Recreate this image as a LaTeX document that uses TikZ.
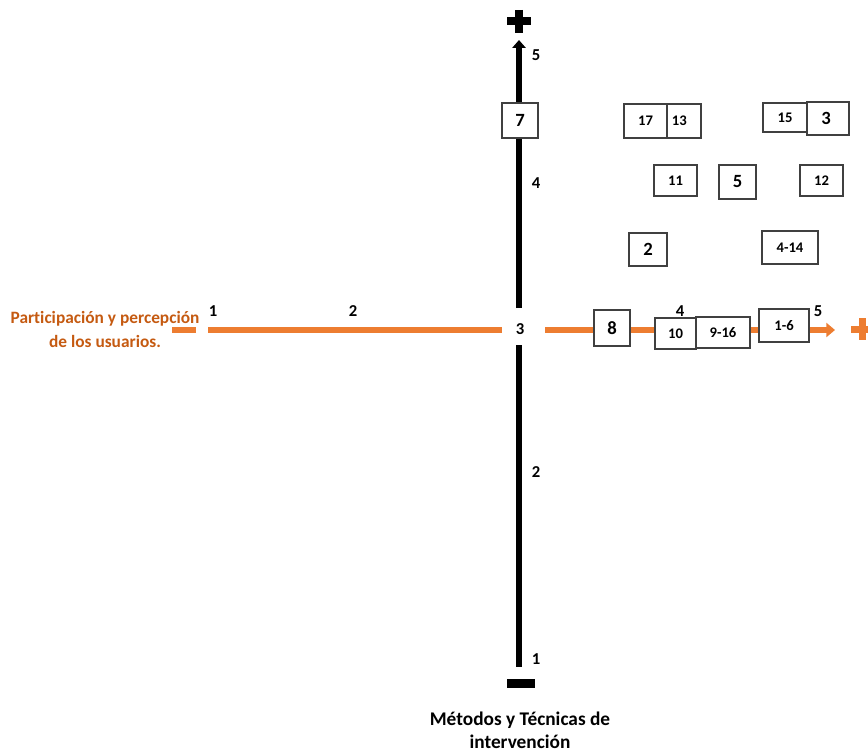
\documentclass[tikz,border=0pt]{standalone}
\usepackage{fontspec}
\setmainfont{Carlito}[Ligatures=NoCommon]
\usetikzlibrary{arrows.meta}
\definecolor{orl}{HTML}{ED7D31}
\definecolor{ort}{HTML}{C55A11}
\definecolor{bx}{HTML}{404040}
\begin{document}
\begin{tikzpicture}[x=0.75pt,y=-0.75pt,
  numbox/.style={draw=bx, line width=0.9pt, fill=white, inner sep=0pt, font=\bfseries\fontsize{11}{13}\selectfont},
  bignum/.style={font=\bfseries\fontsize{14}{16}\selectfont},
  axlab/.style={font=\bfseries\fontsize{12.5}{14}\selectfont, inner sep=0pt},
  blackaxis/.style={line width=5pt, black},
  orangeaxis/.style={line width=4.5pt, orl},
  sign/.style={line width=6pt}]
\useasboundingbox (0,0) rectangle (868,756);

% vertical axis
\coordinate (vtop) at (519,40);
\coordinate (vgapA) at (519,308);
\coordinate (vgapB) at (519,345);
\coordinate (vbot) at (519,667);
\draw[blackaxis, -{Triangle[length=6pt,width=10pt]}] (vgapA) -- (vtop);
\draw[blackaxis] (vgapB) -- (vbot);
% plus top
\coordinate (pl1) at (507,21); \coordinate (pl2) at (531,21);
\coordinate (pl3) at (519,10); \coordinate (pl4) at (519,33);
\draw[sign] (pl1) -- (pl2); \draw[sign] (pl3) -- (pl4);
% minus bottom
\coordinate (mi1) at (507,683.5); \coordinate (mi2) at (535,683.5);
\draw[line width=6.75pt] (mi1) -- (mi2);

% horizontal axis
\coordinate (hd1) at (172,330); \coordinate (hd2) at (196,330);
\coordinate (hA) at (208,330); \coordinate (hB) at (502,330);
\coordinate (hC) at (545,330); \coordinate (hD) at (835,330);
\draw[orangeaxis] (hd1) -- (hd2);
\draw[orangeaxis] (hA) -- (hB);
\draw[orangeaxis, -{Triangle[length=6.5pt,width=10.5pt]}] (hC) -- (hD);
% plus right
\coordinate (op1) at (851,329); \coordinate (op2) at (874,329);
\coordinate (op3) at (862,318); \coordinate (op4) at (862,340);
\draw[sign, orl, line width=5.25pt] (op1) -- (op2);
\draw[sign, orl, line width=5.25pt] (op3) -- (op4);

% axis labels
\node[axlab] (h1) at (213,311) {1};
\node[axlab] (h2) at (353,311) {2};
\node[axlab] (h3) at (520,329) {3};
\node[axlab] (h4) at (680,311) {4};
\node[axlab] (h5) at (818,311) {5};
\node[axlab] (v5) at (536,55) {5};
\node[axlab] (v4) at (536,183) {4};
\node[axlab] (v2) at (536,472) {2};
\node[axlab] (v1) at (536,659) {1};

% titles
\node[font=\bfseries\fontsize{13}{18}\selectfont, text=ort, align=center, inner sep=0pt] (htitle) at (105,329) {Participación y percepción\\de los usuarios.};
\node[font=\bfseries\fontsize{14.5}{17.5}\selectfont, align=center, inner sep=0pt] (vtitle) at (520,730) {Métodos y Técnicas de\\intervención};

% boxes
\node[numbox, bignum, minimum width=27pt, minimum height=26.25pt] (b7) at (520,120.5) {7};
\node[numbox, minimum width=32.25pt, minimum height=25.5pt] (b17) at (645.5,121) {17};
\node[numbox, minimum width=25.5pt, minimum height=25.5pt] (b13) at (684,121) {13\hspace*{7pt}};
\node[numbox, minimum width=33pt, minimum height=21.75pt] (b15) at (785,117.5) {15};
\node[numbox, bignum, minimum width=31.5pt, minimum height=24.75pt] (b3) at (828,118.5) {3\hspace*{3pt}};
\node[numbox, minimum width=32.25pt, minimum height=23.25pt] (b11) at (675.5,180.5) {11};
\node[numbox, bignum, minimum width=27.75pt, minimum height=25.5pt] (b5) at (737.5,182) {5};
\node[numbox, minimum width=32.25pt, minimum height=23.25pt] (b12) at (821.5,180.5) {12};
\node[numbox, bignum, minimum width=28.5pt, minimum height=24.75pt] (b2) at (648,249.5) {2};
\node[numbox, minimum width=42pt, minimum height=24.75pt] (b414) at (790,247.5) {4-14};
\node[numbox, bignum, minimum width=27pt, minimum height=27pt] (b8) at (612,328) {8};
\node[numbox, minimum width=30.75pt, minimum height=23.25pt] (b10) at (675.5,333.5) {10};
\node[numbox, minimum width=40.5pt, minimum height=23.25pt] (b916) at (723,332.5) {9-16};
\node[numbox, minimum width=37.5pt, minimum height=24.75pt] (b16) at (784,325.5) {1-6};
\end{tikzpicture}
\end{document}
